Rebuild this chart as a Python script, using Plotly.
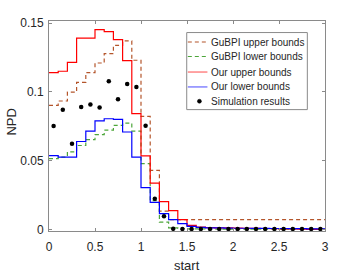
import plotly.graph_objects as go

# bin edges 0..3 step 0.1 (30 bins)
bin_edges = [round(i * 0.1, 1) for i in range(31)]
bin_centers = [round(i * 0.1 + 0.05, 2) for i in range(30)]

gubpi_upper = [0.0903, 0.0934, 0.0999, 0.107, 0.114, 0.121, 0.1278, 0.1338, 0.137, 0.123,
               0.0822, 0.043, 0.0135, 0.0073, 0.0073, 0.0073, 0.0073, 0.0073, 0.0073, 0.0073,
               0.0073, 0.0073, 0.0073, 0.0073, 0.0073, 0.0073, 0.0073, 0.0073, 0.0073, 0.0073]
gubpi_lower = [0.0515, 0.0527, 0.0564, 0.0611, 0.0653, 0.069, 0.0723, 0.0757, 0.0774, 0.0716,
               0.0479, 0.021, 0.0055, 0.0012, 0.0008, 0.0006, 0.0005, 0.0005, 0.0004, 0.0004,
               0.0004, 0.0004, 0.0004, 0.0004, 0.0004, 0.0004, 0.0004, 0.0004, 0.0004, 0.0004]
our_upper = [0.114, 0.115, 0.1215, 0.139, 0.139, 0.1452, 0.1438, 0.138, 0.1227, 0.0842,
             0.0535, 0.0338, 0.0203, 0.0138, 0.0073, 0.0031, 0.0019, 0.0015, 0.0013, 0.0012,
             0.0011, 0.001, 0.0009, 0.0008, 0.0007, 0.0006, 0.0005, 0.0003, 0.0002, 0.0002]
our_lower = [0.0537, 0.0527, 0.0527, 0.064, 0.0716, 0.0789, 0.0805, 0.080, 0.0709, 0.0527,
             0.0305, 0.0198, 0.0116, 0.0073, 0.0043, 0.0023, 0.0016, 0.0013, 0.0012, 0.0011,
             0.001, 0.001, 0.0009, 0.0009, 0.0008, 0.0008, 0.0007, 0.0007, 0.0006, 0.0006]
simulation = [0.0752, 0.0871, 0.0624, 0.089, 0.0908, 0.0886, 0.1077, 0.0946, 0.1057, 0.1036,
              0.0755, 0.0225, 0.0097, 0.0006, 0.0005, 0.0005, 0.0005, 0.0005, 0.0005, 0.0005,
              0.0005, 0.0005, 0.0005, 0.0005, 0.0005, 0.0005, 0.0005, 0.0005, 0.0005, 0.0005]

x_ticks = [0, 0.5, 1, 1.5, 2, 2.5, 3]
x_tick_labels = ["0", "0.5", "1", "1.5", "2", "2.5", "3"]
y_ticks = [0, 0.05, 0.1, 0.15]
y_tick_labels = ["0", "0.05", "0.1", "0.15"]

legend_labels = ["GuBPI upper bounds", "GuBPI lower bounds", "Our upper bounds",
                 "Our lower bounds", "Simulation results"]

C_GU = "#B4552B"
C_GL = "#4DA63A"
C_RED = "#FF0000"
C_BLUE = "#0000FF"
TXT = "#262626"
AX = "#8a8a8a"
FONT = "Liberation Sans, Arial, sans-serif"

def step(vals):
    return list(vals) + [vals[-1]]

fig = go.Figure()
fig.add_trace(go.Scatter(x=bin_edges, y=step(gubpi_upper), mode="lines", line_shape="hv",
                         line=dict(color=C_GU, width=1.2, dash="4px,3px"), showlegend=False))
fig.add_trace(go.Scatter(x=bin_edges, y=step(gubpi_lower), mode="lines", line_shape="hv",
                         line=dict(color=C_GL, width=1.2, dash="4px,3px"), showlegend=False))
fig.add_trace(go.Scatter(x=bin_edges, y=step(our_upper), mode="lines", line_shape="hv",
                         line=dict(color=C_RED, width=1.2), showlegend=False))
fig.add_trace(go.Scatter(x=bin_edges, y=step(our_lower), mode="lines", line_shape="hv",
                         line=dict(color=C_BLUE, width=1.2), showlegend=False))
fig.add_trace(go.Scatter(x=bin_centers, y=simulation, mode="markers",
                         marker=dict(color="black", size=4.5), showlegend=False))

# manual legend (MATLAB style)
shapes = [dict(type="rect", xref="paper", yref="paper", x0=0.499, x1=0.936, y0=0.578, y1=0.945,
               line=dict(color=AX, width=1), fillcolor="white", layer="above")]
annotations = []
rows_y = [0.900, 0.831, 0.757, 0.686, 0.618]
styles = [(C_GU, "dash"), (C_GL, "dash"), ("#FF6666", "solid"), ("#6666FF", "solid"), None]
for yy, lab, st in zip(rows_y, legend_labels, styles):
    if st is not None:
        shapes.append(dict(type="line", xref="paper", yref="paper", x0=0.503, x1=0.574, y0=yy, y1=yy,
                           line=dict(color=st[0], width=1.2, dash="4px,3px" if st[1] == "dash" else "solid"),
                           layer="above"))
    else:
        shapes.append(dict(type="circle", xref="paper", yref="paper", xsizemode="pixel", ysizemode="pixel",
                           xanchor=0.545, yanchor=yy, x0=-2, x1=2, y0=-2, y1=2,
                           fillcolor="black", line=dict(color="black", width=0.5), layer="above"))
    annotations.append(dict(xref="paper", yref="paper", x=0.58, y=yy, xanchor="left", yanchor="middle",
                            text=lab, showarrow=False, font=dict(family=FONT, size=10, color=TXT)))

# axis titles as annotations (fixed positions)
annotations.append(dict(xref="paper", yref="paper", x=0.5, y=-0.165, xanchor="center", yanchor="middle",
                        text="start", showarrow=False, font=dict(family=FONT, size=13, color=TXT)))
annotations.append(dict(xref="paper", yref="paper", x=-0.135, y=0.52, xanchor="center", yanchor="middle",
                        text="NPD", textangle=-90, showarrow=False, font=dict(family=FONT, size=13, color=TXT)))

fig.update_layout(
    width=346, height=277,
    margin=dict(l=49, r=21, t=21, b=46, pad=0),
    paper_bgcolor="white", plot_bgcolor="white",
    font=dict(family=FONT, size=12, color=TXT),
    shapes=shapes, annotations=annotations,
    xaxis=dict(range=[0, 3], tickvals=x_ticks, ticktext=x_tick_labels, ticks="inside", ticklen=3,
               tickcolor=AX, showline=True, linecolor=AX, linewidth=1, mirror="ticks",
               showgrid=False, zeroline=False, tickfont=dict(size=12, color=TXT), automargin=False,
               ticklabelstandoff=5),
    yaxis=dict(range=[-0.001, 0.1515], tickvals=y_ticks, ticktext=y_tick_labels, ticks="inside", ticklen=3,
               tickcolor=AX, showline=True, linecolor=AX, linewidth=1, mirror="ticks",
               showgrid=False, zeroline=False, tickfont=dict(size=12, color=TXT), automargin=False,
               ticklabelstandoff=2),
)

fig.write_html("out.html", config={"displayModeBar": False},
               post_script="document.body.style.margin='0';document.body.style.padding='0';"
                           "document.body.style.overflow='hidden';")
